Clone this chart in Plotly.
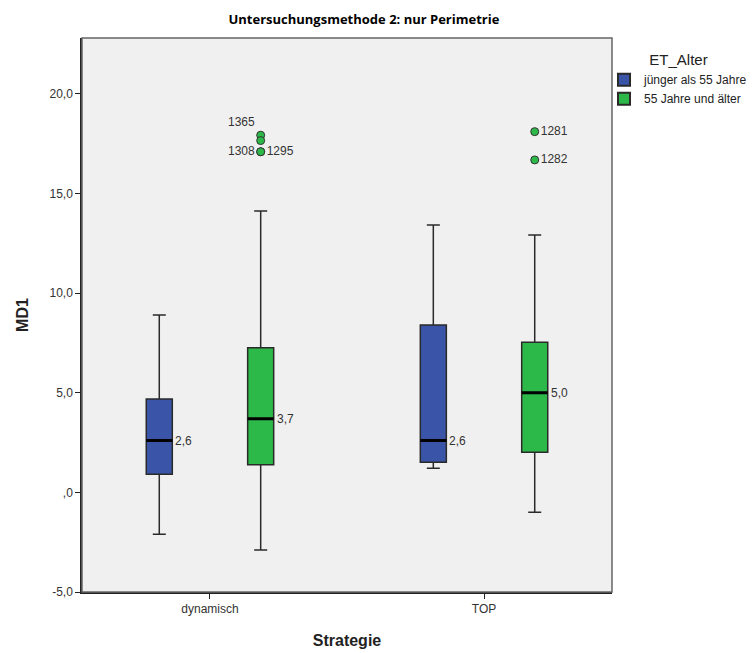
import plotly.graph_objects as go

# Strategy categories and the two age groups
categories = ["dynamisch", "TOP"]
groups = ["jünger als 55 Jahre", "55 Jahre und älter"]

# Precomputed box statistics per group (one value per category)
young_lower = [-2.10, 1.21]
young_q1 = [0.91, 1.51]
young_median = [2.6, 2.6]
young_q3 = [4.69, 8.40]
young_upper = [8.91, 13.42]

old_lower = [-2.89, -1.00]
old_q1 = [1.39, 2.01]
old_median = [3.7, 5.0]
old_q3 = [7.26, 7.54]
old_upper = [14.13, 12.92]

# Outliers of the older group
outlier_cat = [0, 0, 0, 0, 1, 1]
outlier_val = [17.93, 17.66, 17.10, 17.10, 18.11, 16.69]
outlier_ids = ["1365", "", "1308", "1295", "1281", "1282"]
outlier_textpos = ["top left", "middle left", "middle left", "middle right", "middle right", "middle right"]

# Y-axis ticks (German decimal comma)
y_ticks = [-5, 0, 5, 10, 15, 20]
y_ticktext = ["-5,0", ",0", "5,0", "10,0", "15,0", "20,0"]

BLUE = "#3A55A8"
GREEN = "#2DB84A"
OFFSET = 0.185
BOX_W = 0.095
FONT = "Liberation Sans, Arial, sans-serif"


def de(v):
    return f"{v:.1f}".replace(".", ",")


fig = go.Figure()

stats = [
    (groups[0], BLUE, -OFFSET, young_lower, young_q1, young_median, young_q3, young_upper),
    (groups[1], GREEN, OFFSET, old_lower, old_q1, old_median, old_q3, old_upper),
]

for name, color, off, lo, q1, med, q3, up in stats:
    xs = [i + off for i in range(len(categories))]
    fig.add_trace(go.Box(
        name=name, x=xs, lowerfence=lo, q1=q1, median=med, q3=q3, upperfence=up,
        width=BOX_W, fillcolor=color, line=dict(color="#2a2a2a", width=1.5),
        whiskerwidth=0.5, boxpoints=False, hoverinfo="skip",
    ))
    # thick median bar
    fig.add_trace(go.Box(
        x=xs, lowerfence=med, q1=med, median=med, q3=med, upperfence=med,
        width=BOX_W, fillcolor="rgba(0,0,0,0)", line=dict(color="black", width=3),
        whiskerwidth=0, boxpoints=False, showlegend=False, hoverinfo="skip",
    ))
    # median value labels
    for i, m in enumerate(med):
        fig.add_annotation(
            x=i + off + BOX_W / 2, y=m, text=de(m), showarrow=False,
            xanchor="left", yanchor="middle", xshift=1,
            font=dict(family=FONT, size=12, color="#333333"),
        )

fig.add_trace(go.Scatter(
    x=[c + OFFSET for c in outlier_cat], y=outlier_val, mode="markers+text",
    text=outlier_ids, textposition=outlier_textpos,
    marker=dict(size=8, color=GREEN, line=dict(color="#333333", width=1)),
    textfont=dict(family=FONT, size=12, color="#333333"),
    showlegend=False, hoverinfo="skip", cliponaxis=False,
))

fig.update_layout(
    width=755, height=653,
    margin=dict(l=82, r=143, t=38, b=61, autoexpand=False),
    paper_bgcolor="white", plot_bgcolor="#F0F0F0",
    boxmode="overlay",
    title=dict(text="<b>Untersuchungsmethode 2: nur Perimetrie</b>",
               x=0.482, xanchor="center", y=0.97, yanchor="middle",
               font=dict(family="Open Sans, sans-serif", size=13, color="black")),
    xaxis=dict(
        range=[-0.467, 1.467], tickvals=list(range(len(categories))), ticktext=categories,
        showgrid=False, zeroline=False, showline=True, linecolor="#222222", linewidth=1.5,
        ticks="outside", ticklen=5, tickcolor="#222222",
        tickfont=dict(family=FONT, size=12, color="#333333"),
        title=dict(text="<b>Strategie</b>", font=dict(family=FONT, size=16, color="#222222"), standoff=20),
    ),
    yaxis=dict(
        range=[-5, 22.81], tickvals=y_ticks, ticktext=y_ticktext,
        showgrid=False, zeroline=False, showline=True, linecolor="#222222", linewidth=1.5,
        ticks="outside", ticklen=5, tickcolor="#222222",
        tickfont=dict(family=FONT, size=12, color="#333333"),
        title=dict(text="<b>MD1</b>", font=dict(family=FONT, size=16, color="#222222"), standoff=17),
    ),
    legend=dict(
        xref="container", yref="container",
        x=0.8, xanchor="left", y=0.93, yanchor="top",
        title=dict(text="ET_Alter", side="top center", font=dict(family=FONT, size=15, color="#222222")),
        font=dict(family=FONT, size=12, color="#222222"),
        bgcolor="rgba(0,0,0,0)", itemsizing="constant", itemwidth=30, tracegroupgap=0,
    ),
    shapes=[dict(type="rect", xref="paper", yref="paper", x0=0, y0=0, x1=1, y1=1,
                 line=dict(color="#666666", width=1.5), fillcolor="rgba(0,0,0,0)", layer="above")],
)

fig.write_html("out.html")
